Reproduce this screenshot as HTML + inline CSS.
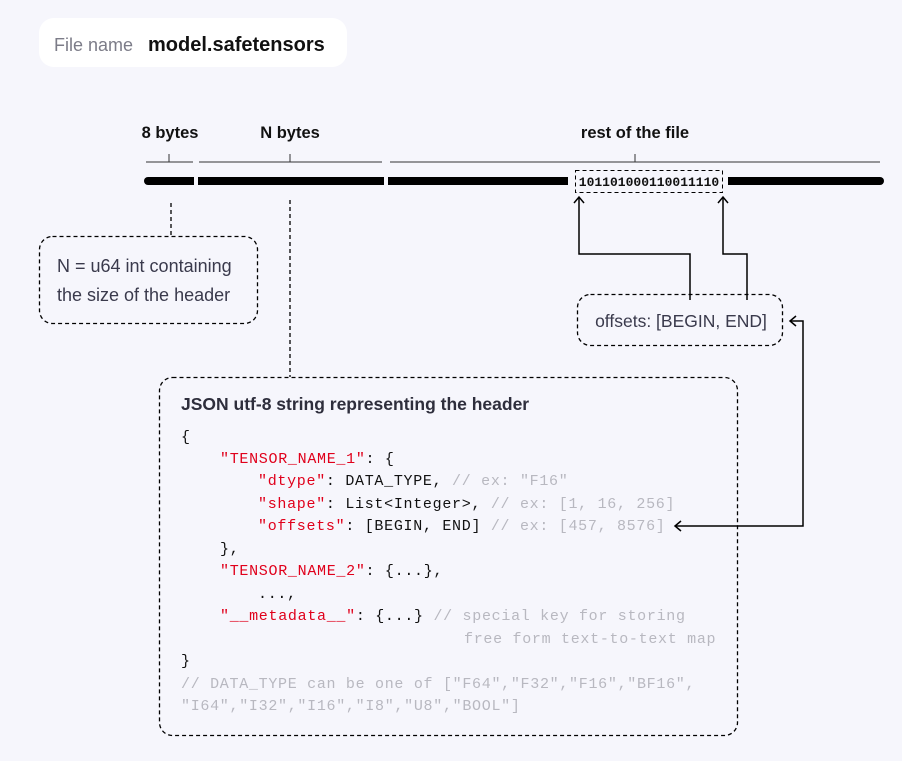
<!DOCTYPE html>
<html><head><meta charset="utf-8"><style>
html,body{margin:0;padding:0;background:#f6f6fc;}
svg{display:block}
.s{font-family:"Liberation Sans",sans-serif}
.m{font-family:"Liberation Mono",monospace;font-size:15px;letter-spacing:0.7px}
.r{fill:#e0001b}.k{fill:#111}.g{fill:#b8b8c0}
</style></head><body>
<svg width="902" height="761" viewBox="0 0 902 761" xmlns="http://www.w3.org/2000/svg">
<rect width="902" height="761" fill="#f6f6fc"/>
<rect x="39" y="18" width="308" height="49" rx="15" fill="#fff"/>
<text x="54" y="51" class="s" font-size="18" fill="#7c7c88">File name</text>
<text x="148" y="51" class="s" font-size="20" font-weight="bold" fill="#111">model.safetensors</text>

<g class="s" font-size="16.5" font-weight="bold" fill="#111" text-anchor="middle">
<text x="170" y="138">8 bytes</text>
<text x="290" y="138">N bytes</text>
<text x="635" y="138">rest of the file</text>
</g>
<g stroke="#333" stroke-width="1">
<line x1="146" y1="162" x2="193" y2="162"/><line x1="169" y1="154" x2="169" y2="162"/>
<line x1="199" y1="162" x2="382" y2="162"/><line x1="290" y1="154" x2="290" y2="162"/>
<line x1="390" y1="162" x2="880" y2="162"/><line x1="635" y1="154" x2="635" y2="162"/>
</g>
<g fill="#000">
<rect x="144" y="177" width="50" height="8" rx="4"/><rect x="150" y="177" width="44" height="8"/>
<rect x="198" y="177" width="186" height="8"/>
<rect x="388" y="177" width="180" height="8"/>
<rect x="728" y="177" width="156" height="8" rx="4"/><rect x="728" y="177" width="150" height="8"/>
</g>
<rect x="575.5" y="170.5" width="147" height="22" fill="none" stroke="#000" stroke-dasharray="4,3"/>
<text x="649" y="186" text-anchor="middle" font-family="Liberation Mono,monospace" font-weight="bold" font-size="13" fill="#111">101101000110011110</text>

<g stroke="#000" stroke-width="1.3" fill="none" stroke-dasharray="4,3">
<line x1="171" y1="203" x2="171" y2="236"/>
<line x1="290" y1="200" x2="290" y2="377"/>
<rect x="39.5" y="236.5" width="218" height="87" rx="13"/>
<rect x="577.5" y="294.5" width="205" height="51" rx="13"/>
<rect x="159.5" y="377.5" width="578" height="358" rx="13"/>
</g>
<g class="s" font-size="18" fill="#3a3a4c">
<text x="57" y="272">N = u64 int containing</text>
<text x="57" y="301">the size of the header</text>
<text x="681" y="327" text-anchor="middle" font-size="17.5">offsets: [BEGIN, END]</text>
<text x="181" y="410" font-size="17.5" font-weight="bold" fill="#2e2e3c">JSON utf-8 string representing the header</text>
</g>

<g stroke="#000" stroke-width="1.5" fill="none">
<polyline points="690,300 690,254 579,254 579,197"/>
<polyline points="574,203 579,197 584,203"/>
<polyline points="747,300 747,254 723,254 723,197"/>
<polyline points="718,203 723,197 728,203"/>
<polyline points="676,526 803,526 803,321 791,321"/>
<polyline points="681,521 675,526 681,531"/>
<polyline points="796,316 790,321 796,326"/>
</g>

<g class="m">
<text x="181" y="441" class="k">{</text>
<text x="220" y="463"><tspan class="r">"TENSOR_NAME_1"</tspan><tspan class="k">: {</tspan></text>
<text x="258" y="485"><tspan class="r">"dtype"</tspan><tspan class="k">: DATA_TYPE, </tspan><tspan class="g">// ex: "F16"</tspan></text>
<text x="258" y="508"><tspan class="r">"shape"</tspan><tspan class="k">: List&lt;Integer&gt;, </tspan><tspan class="g">// ex: [1, 16, 256]</tspan></text>
<text x="258" y="530"><tspan class="r">"offsets"</tspan><tspan class="k">: [BEGIN, END] </tspan><tspan class="g">// ex: [457, 8576]</tspan></text>
<text x="220" y="553" class="k">},</text>
<text x="220" y="575"><tspan class="r">"TENSOR_NAME_2"</tspan><tspan class="k">: {...},</tspan></text>
<text x="258" y="598" class="k">...,</text>
<text x="220" y="620"><tspan class="r">"__metadata__"</tspan><tspan class="k">: {...} </tspan><tspan class="g">// special key for storing</tspan></text>
<text x="464" y="643" class="g">free form text-to-text map</text>
<text x="181" y="665" class="k">}</text>
<text x="181" y="688" class="g">// DATA_TYPE can be one of ["F64","F32","F16","BF16",</text>
<text x="181" y="710" class="g">"I64","I32","I16","I8","U8","BOOL"]</text>
</g>
</svg>
</body></html>
